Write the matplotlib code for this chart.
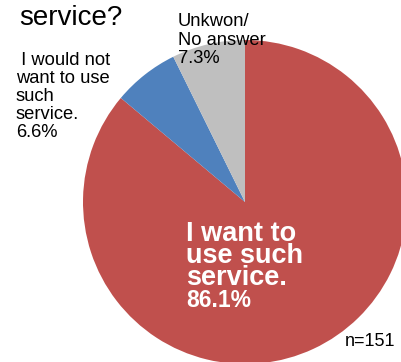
import matplotlib.pyplot as plt

plt.rcParams['font.family'] = ['Liberation Sans', 'DejaVu Sans']

# Données du graphique
categories = ['I want to use such service.', 'I would not want to use such service.', 'Unkwon/ No answer']
shares = [86.1, 6.6, 7.3]
colors = ['#C0504D', '#4F81BD', '#BFBFBF']
n_total = 151

W, H = 401, 362
fig = plt.figure(figsize=(W / 100, H / 100), dpi=100)
ax = fig.add_axes([0, 0, 1, 1])

# Camembert (sens horaire depuis le haut)
ax.pie(shares, colors=colors, startangle=90, counterclock=False,
       center=(245, 160), radius=162)
ax.set_xlim(0, W)
ax.set_ylim(0, H)
ax.set_aspect('equal')
ax.set_axis_off()

# Titre (coupé en haut)
ax.text(19, 337, 'service?', fontsize=20, ha='left', va='baseline', color='black')

# Etiquettes (va='baseline' -> ligne du bas)
ax.text(16, 225, ' I would not\nwant to use\nsuch\nservice.\n%.1f%%' % shares[1],
        fontsize=13.2, ha='left', va='baseline', linespacing=1.07, color='black')
ax.text(178, 299, 'Unkwon/\nNo answer\n%.1f%%' % shares[2],
        fontsize=13.2, ha='left', va='baseline', linespacing=1.1, color='black')
ax.text(186, 77, 'I want to\nuse such\nservice.',
        fontsize=19.5, fontweight='bold', ha='left', va='baseline',
        linespacing=0.8, color='white')
ax.text(186, 55, '%.1f%%' % shares[0],
        fontsize=16.5, fontweight='bold', ha='left', va='baseline', color='white')

ax.text(395, 16, 'n=%d' % n_total, fontsize=13, ha='right', va='baseline', color='black')

plt.savefig('out.png', dpi=100)
